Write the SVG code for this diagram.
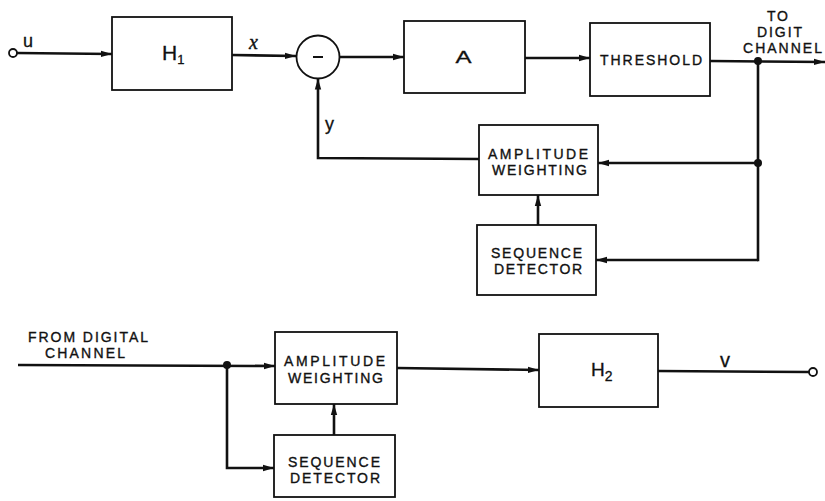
<svg xmlns="http://www.w3.org/2000/svg" width="825" height="501" viewBox="0 0 825 501">
<style>
.box{fill:#fff;stroke:#111;stroke-width:1.8}
.ln{fill:none;stroke:#111;stroke-width:2.6}
.arr{marker-end:url(#ah)}
.t{font-family:"Liberation Sans","DejaVu Sans",sans-serif;font-size:14px;fill:#111;stroke:#111;stroke-width:0.35}
.big{font-family:"Liberation Sans","DejaVu Sans",sans-serif;fill:#111;stroke:#111;stroke-width:0.3}
.dot{fill:#111}
.term{fill:#fff;stroke:#111;stroke-width:1.8}
</style>
<defs>
<marker id="ah" markerUnits="userSpaceOnUse" markerWidth="12" markerHeight="8" refX="11" refY="4" orient="auto">
<path d="M0,0.8 L11,4 L0,7.2 z" fill="#111"/>
</marker>
</defs>
<rect width="825" height="501" fill="#fff"/>
<g id="connectors">
<line class="ln arr" x1="17" y1="53" x2="112" y2="54"/>
<line class="ln arr" x1="232" y1="55" x2="296" y2="56"/>
<line class="ln arr" x1="339.5" y1="57" x2="404" y2="57"/>
<line class="ln arr" x1="525" y1="58" x2="590" y2="58"/>
<line class="ln arr" x1="710" y1="61" x2="825" y2="62"/>
<polyline class="ln" points="758,61 758,260 757,260"/>
<line class="ln arr" x1="758" y1="163" x2="598" y2="163"/>
<line class="ln arr" x1="758" y1="260" x2="596" y2="260"/>
<line class="ln arr" x1="538" y1="225" x2="538" y2="195"/>
<polyline class="ln arr" points="479,159 318,158 318,78.5"/>
<circle class="dot" cx="758" cy="61" r="4"/>
<circle class="dot" cx="758" cy="163" r="4"/>
<line class="ln arr" x1="18" y1="365" x2="275" y2="366"/>
<polyline class="ln arr" points="227,365 227,468 274,468"/>
<circle class="dot" cx="227" cy="365" r="4"/>
<line class="ln arr" x1="334" y1="435" x2="334" y2="404"/>
<line class="ln arr" x1="397" y1="368" x2="539" y2="370"/>
<line class="ln" x1="658" y1="371" x2="809" y2="372"/>
</g>
<g id="input-u">
<circle class="term" cx="13" cy="53" r="4"/>
<text class="big" x="23" y="47" font-size="18">u</text>
</g>
<g id="H1">
<rect class="box" x="112" y="17" width="120" height="73"/>
<text class="big" x="162" y="60" font-size="21">H<tspan font-size="13" dy="4">1</tspan></text>
</g>
<g id="label-x">
<text x="249" y="49" font-family="'Liberation Serif','DejaVu Serif',serif" font-style="italic" font-size="20" fill="#111" stroke="#111" stroke-width="0.4">x</text>
</g>
<g id="subtractor">
<circle class="box" cx="318" cy="57" r="21.5"/>
<line x1="313" y1="57" x2="323" y2="57" stroke="#111" stroke-width="2"/>
</g>
<g id="label-y">
<text class="big" x="325" y="130" font-size="18">y</text>
</g>
<g id="A">
<rect class="box" x="404" y="21" width="121" height="72"/>
<text class="big" x="463.5" y="63" font-size="16" text-anchor="middle" textLength="16" lengthAdjust="spacingAndGlyphs">A</text>
</g>
<g id="threshold">
<rect class="box" x="590" y="23" width="120" height="73"/>
<text class="t" x="600" y="65" font-size="15" textLength="102" lengthAdjust="spacing">THRESHOLD</text>
</g>
<g id="to-digit-channel">
<text class="t" x="767" y="21" textLength="21" lengthAdjust="spacing">TO</text>
<text class="t" x="757" y="37" textLength="45" lengthAdjust="spacing">DIGIT</text>
<text class="t" x="743" y="53" textLength="79" lengthAdjust="spacing">CHANNEL</text>
</g>
<g id="amp-weighting-1">
<rect class="box" x="479" y="125" width="119" height="70"/>
<text class="t" x="488" y="158.5" textLength="100" lengthAdjust="spacing">AMPLITUDE</text>
<text class="t" x="492" y="174.5" textLength="95" lengthAdjust="spacing">WEIGHTING</text>
</g>
<g id="seq-detector-1">
<rect class="box" x="477" y="225" width="119" height="70"/>
<text class="t" x="491" y="257.5" textLength="91" lengthAdjust="spacing">SEQUENCE</text>
<text class="t" x="494" y="273.5" textLength="88" lengthAdjust="spacing">DETECTOR</text>
</g>
<g id="from-digital-channel">
<text class="t" x="28" y="342" textLength="120" lengthAdjust="spacing">FROM DIGITAL</text>
<text class="t" x="45" y="358" textLength="80" lengthAdjust="spacing">CHANNEL</text>
</g>
<g id="amp-weighting-2">
<rect class="box" x="275" y="332" width="122" height="72"/>
<text class="t" x="284" y="366" textLength="101" lengthAdjust="spacing">AMPLITUDE</text>
<text class="t" x="288" y="382.5" textLength="95" lengthAdjust="spacing">WEIGHTING</text>
</g>
<g id="seq-detector-2">
<rect class="box" x="274" y="435" width="121" height="62"/>
<text class="t" x="288" y="466.5" textLength="92" lengthAdjust="spacing">SEQUENCE</text>
<text class="t" x="290" y="483" textLength="90" lengthAdjust="spacing">DETECTOR</text>
</g>
<g id="H2">
<rect class="box" x="539" y="334" width="119" height="73"/>
<text class="big" x="591" y="376" font-size="19">H<tspan font-size="14" dy="5">2</tspan></text>
</g>
<g id="output-v">
<text class="big" x="720" y="367" font-size="20">v</text>
<circle class="term" cx="813" cy="372" r="4"/>
</g>
</svg>
